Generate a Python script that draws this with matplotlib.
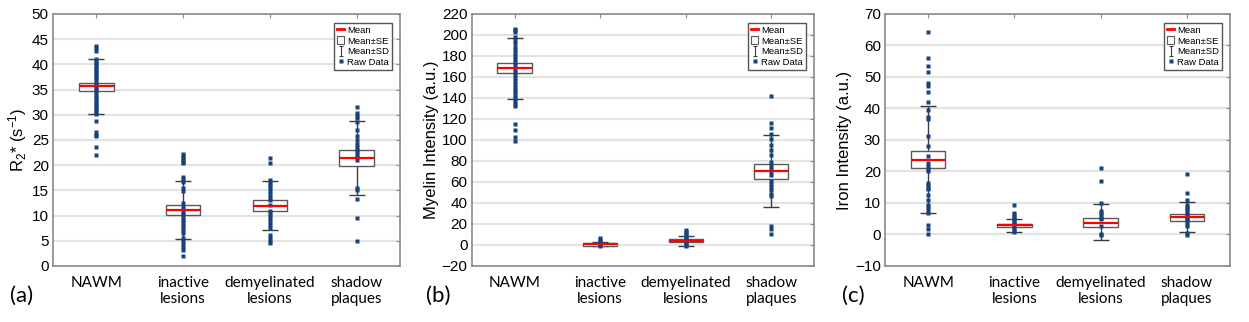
import numpy as np
import matplotlib.pyplot as plt
from matplotlib.lines import Line2D
from matplotlib.patches import Rectangle
from matplotlib.path import Path

plt.rcParams['font.family'] = ['Liberation Sans', 'DejaVu Sans']
plt.rcParams['mathtext.fontset'] = 'custom'
plt.rcParams['mathtext.rm'] = 'Liberation Sans'
plt.rcParams['mathtext.it'] = 'Liberation Sans:italic'

groups = ["NAWM", "inactive\nlesions", "demyelinated\nlesions", "shadow\nplaques"]

# (a) R2*
r2_mean = [35.7, 11.1, 11.9, 21.5]
r2_se_lo = [34.8, 10.2, 10.9, 19.9]
r2_se_hi = [36.4, 12.0, 13.0, 23.0]
r2_sd_lo = [30.2, 5.4, 7.1, 14.1]
r2_sd_hi = [41.1, 16.9, 16.8, 28.8]
r2_raw = [
    [43.7, 43.2, 42.6, 41.0, 40.6, 40.2, 39.8, 39.4, 39.0, 38.6, 38.2, 37.8, 37.4,
     37.0, 36.6, 36.2, 35.8, 35.4, 35.0, 34.5, 33.9, 33.5, 33.0, 32.6, 32.1, 31.7,
     31.3, 30.9, 30.5, 30.1, 28.7, 26.5, 26.0, 25.7, 23.7, 22.0],
    [22.3, 21.9, 21.5, 21.1, 20.7, 20.4, 17.7, 17.2, 16.7, 15.4, 14.9, 12.4, 11.8,
     10.8, 10.3, 9.8, 9.2, 8.7, 8.2, 7.7, 7.1, 6.5, 5.5, 4.9, 4.3, 3.7, 3.2, 1.9],
    [21.4, 20.4, 17.0, 16.5, 16.0, 15.4, 14.9, 14.3, 13.6, 13.0, 12.1, 11.0, 10.5,
     9.9, 9.3, 8.8, 8.2, 7.5, 6.2, 5.5, 5.0, 4.6],
    [31.6, 30.3, 29.8, 29.3, 28.6, 27.0, 25.7, 25.0, 24.3, 23.7, 23.1, 22.6, 22.1,
     21.7, 21.0, 15.4, 15.0, 13.3, 9.5, 5.0],
]

# (b) Myelin
my_mean = [168.3, 0.5, 4.2, 70.0]
my_se_lo = [163.5, -0.8, 2.8, 63.0]
my_se_hi = [173.0, 2.2, 5.7, 77.5]
my_sd_lo = [139.0, -1.3, -0.6, 36.1]
my_sd_hi = [196.8, 2.8, 8.2, 105.0]
my_raw = [
    [206.0, 204.5, 203.0, 198.0, 195.0, 192.0, 189.0, 186.0, 183.0, 180.0, 177.0,
     174.0, 171.0, 168.0, 165.0, 162.0, 159.0, 156.0, 153.0, 150.0, 148.0, 146.0,
     143.0, 140.0, 137.0, 134.5, 132.5, 115.4, 109.7, 102.7, 98.6],
    [6.7, 5.0, 3.5, 2.0, 0.8, -0.3, -1.3],
    [14.6, 12.8, 11.0, 9.2, 7.5, 5.8, 4.0, 2.3, 0.5, -1.3],
    [142.3, 116.0, 111.0, 105.9, 100.8, 95.4, 90.6, 85.9, 78.6, 74.8, 72.0, 69.2,
     66.9, 60.5, 58.0, 55.4, 52.0, 49.0, 46.3, 17.7, 15.2, 10.5],
]

# (c) Iron
fe_mean = [23.8, 2.9, 3.7, 5.5]
fe_se_lo = [21.1, 2.4, 2.5, 4.4]
fe_se_hi = [26.4, 3.3, 5.2, 6.5]
fe_sd_lo = [6.8, 0.7, -1.8, 0.7]
fe_sd_hi = [40.9, 4.8, 9.7, 10.2]
fe_raw = [
    [64.4, 56.0, 53.5, 51.7, 48.0, 47.2, 45.1, 41.9, 39.6, 37.3, 36.6, 31.4, 28.0,
     25.0, 22.7, 21.6, 20.8, 20.1, 16.4, 15.6, 14.9, 14.3, 12.4, 10.9, 9.5, 8.6,
     7.8, 6.9, 3.0, 1.6, 0.0],
    [9.2, 6.9, 6.2, 5.6, 5.0, 4.4, 3.7, 3.2, 2.6, 2.0, 1.4, 0.7],
    [21.1, 16.9, 10.0, 7.4, 6.8, 6.3, 5.3, 4.8, 2.6, 0.0, -0.3],
    [19.3, 13.2, 11.1, 9.5, 8.8, 8.1, 7.4, 6.6, 5.9, 5.2, 4.8, 4.2, 3.4, 2.6, 0.5, -0.3],
]

panels = [
    (r2_mean, r2_se_lo, r2_se_hi, r2_sd_lo, r2_sd_hi, r2_raw,
     np.arange(0, 51, 5), "R$_2$* (s$^{-1}$)", "(a)"),
    (my_mean, my_se_lo, my_se_hi, my_sd_lo, my_sd_hi, my_raw,
     np.arange(-20, 221, 20), "Myelin Intensity (a.u.)", "(b)"),
    (fe_mean, fe_se_lo, fe_se_hi, fe_sd_lo, fe_sd_hi, fe_raw,
     np.arange(-10, 71, 10), "Iron Intensity (a.u.)", "(c)"),
]

ax_rects = [
    [0.0424, 0.174, 0.2779, 0.7826],
    [0.3777, 0.174, 0.2740, 0.7826],
    [0.7086, 0.174, 0.2762, 0.7826],
]
letter_x = [22, 438, 853]

dot_color = '#17427a'
box_color = '#5a5a5a'
frame_color = '#8a8a8a'

# legend glyph for mean +/- SD
ibeam = Path([(-0.5, 1), (0.5, 1), (0, 1), (0, -1), (-0.5, -1), (0.5, -1)],
             [Path.MOVETO, Path.LINETO, Path.MOVETO, Path.LINETO, Path.MOVETO, Path.LINETO])

fig = plt.figure(figsize=(12.49, 3.22), dpi=100)

for (mean, se_lo, se_hi, sd_lo, sd_hi, raw, yt, ylabel, letter), rect, lx in zip(panels, ax_rects, letter_x):
    ax = fig.add_axes(rect)
    x = np.arange(1, 5)
    mean = np.array(mean)
    # SD whiskers
    ax.errorbar(x, mean, yerr=[mean - np.array(sd_lo), np.array(sd_hi) - mean],
                fmt='none', ecolor='#3c3c3c', elinewidth=1, capsize=6, capthick=1, zorder=2)
    # SE box
    ax.bar(x, np.array(se_hi) - np.array(se_lo), bottom=se_lo, width=0.4,
           facecolor='white', edgecolor=box_color, linewidth=1, zorder=3)
    # raw points
    for xi, vals in zip(x, raw):
        ax.plot([xi] * len(vals), vals, 's', ms=2.4, color=dot_color, mec='none', zorder=4)
    # mean line
    ax.hlines(mean, x - 0.2, x + 0.2, colors='red', linewidth=1.6, zorder=5)

    ax.set_xlim(0.5, 4.5)
    ax.set_ylim(yt[0], yt[-1])
    ax.set_yticks(yt)
    ax.set_xticks(x)
    ax.set_xticklabels(groups, fontfamily='Lato', fontsize=11, linespacing=1.2)
    ax.tick_params(axis='y', labelsize=11, direction='in', length=3, color=frame_color,
                   right=True, left=False, pad=3)
    ax.tick_params(axis='x', direction='in', length=3, color=frame_color, top=True,
                   bottom=False, pad=7)
    ax.yaxis.grid(True, color='#e3e3e3', linewidth=1.5)
    ax.set_axisbelow(True)
    for s in ax.spines.values():
        s.set_color(frame_color)
        s.set_linewidth(1.2)
    ax.set_ylabel(ylabel, fontsize=12, labelpad=2)

    handles = [
        Line2D([], [], color='red', lw=2),
        Rectangle((0, 0), 1, 1, facecolor='white', edgecolor=box_color, lw=0.8),
        Line2D([], [], ls='none', marker=ibeam, ms=7, mec='#3c3c3c', mew=0.8),
        Line2D([], [], ls='none', marker='s', ms=2.2, color=dot_color, mec='none'),
    ]
    leg = ax.legend(handles, ["Mean", "Mean±SE", "Mean±SD", "Raw Data"],
                    loc='upper right', bbox_to_anchor=(0.977, 0.964), borderaxespad=0,
                    fontsize=6.8, handlelength=0.8, handleheight=0.9, handletextpad=0.3,
                    labelspacing=0.15, borderpad=0.3, fancybox=False, framealpha=1)
    leg.get_frame().set_edgecolor('#555555')
    leg.get_frame().set_linewidth(1)

    fig.text(lx / 1249, 1 - 296 / 322, letter, ha='center', va='center',
             fontsize=16, fontfamily='Lato')

fig.savefig("out.png", dpi=100)
